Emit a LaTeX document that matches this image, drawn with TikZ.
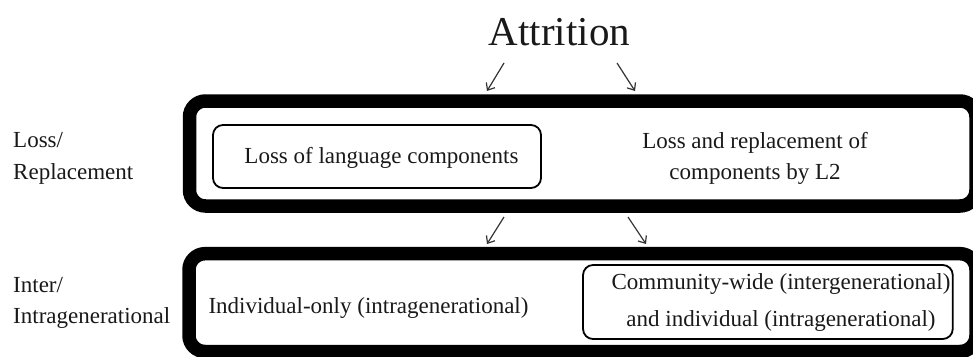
\documentclass[tikz,border=0pt]{standalone}
\usepackage{fontspec}
\setmainfont{Liberation Serif}
\usetikzlibrary{arrows.meta}
\begin{document}
\begin{tikzpicture}[x=1pt,y=-1pt,
  txt/.style={inner sep=0pt, font=\fontsize{23}{31}\selectfont, text=black!90},
  rowbox/.style={draw=black, line width=13.5pt, rounded corners=16pt, inner sep=0pt},
  itembox/.style={draw=black, line width=1.8pt, rounded corners=10pt, inner sep=0pt},
  arr/.style={draw=black!80, line width=1.2pt, -{Straight Barb[length=6pt,width=10pt]}}]
\useasboundingbox (0,0) rectangle (973,356);
\clip (0,0) rectangle (973,356);

% title
\node[txt, font=\fontsize{41}{48}\selectfont, anchor=base] (attr) at (559.5,45) {Attrition};

% row labels (multi-line nodes are anchored on their last baseline)
\node[txt, font=\fontsize{23}{32}\selectfont, align=left, anchor=base west] (lblA) at (13,179) {Loss/\\Replacement};
\node[txt, font=\fontsize{23}{31}\selectfont, align=left, anchor=base west] (lblB) at (13,323) {Inter/\\Intragenerational};

% row containers
\node[rowbox, minimum width=786.5pt, minimum height=105pt] (rowA) at (582.75,153.5) {};
\node[rowbox, minimum width=787pt, minimum height=97.8pt] (rowB) at (582.5,302.6) {};

% first row contents
\node[itembox, minimum width=328pt, minimum height=63pt] (lossBox) at (377,156.5) {};
\node[txt, anchor=base] (lossText) at (381.5,163) {Loss of language components};
\node[txt, align=center, anchor=base] (replText) at (755,179) {Loss and replacement of\\components by L2};

% second row contents
\node[txt, anchor=base] (indText) at (368.5,313) {Individual-only (intragenerational)};
\node[itembox, minimum width=369.7pt, minimum height=74pt] (comBox) at (767.9,302) {};
\node[txt, font=\fontsize{23}{37}\selectfont, align=center, anchor=base] (comText) at (781,326) {Community-wide (intergenerational)\\and individual (intragenerational)};

% arrows
\coordinate (a1s) at (504,63);  \coordinate (a1e) at (487,91);
\coordinate (a2s) at (617,63);  \coordinate (a2e) at (635,91);
\coordinate (a3s) at (504,217); \coordinate (a3e) at (487,244);
\coordinate (a4s) at (628,217); \coordinate (a4e) at (646,244);
\draw[arr] (a1s) -- (a1e);
\draw[arr] (a2s) -- (a2e);
\draw[arr] (a3s) -- (a3e);
\draw[arr] (a4s) -- (a4e);
\end{tikzpicture}
\end{document}
